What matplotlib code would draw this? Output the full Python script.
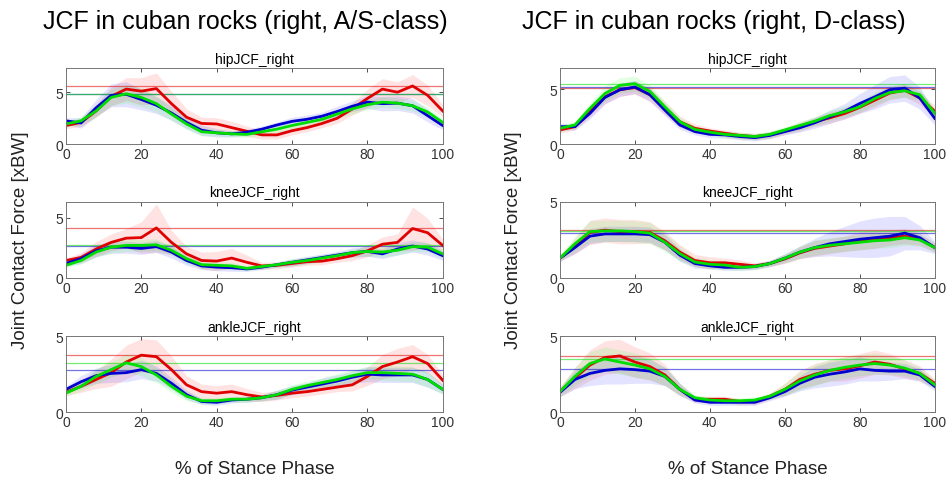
import numpy as np
import matplotlib
matplotlib.use('Agg')  # headless
import matplotlib.pyplot as plt

plt.rcParams['font.family'] = ['Liberation Sans', 'DejaVu Sans']

# % of stance phase, sampled every 4 %
stance = np.arange(0, 101, 4)

# ---- A/S-class ----
as_hip_red = [1.8, 2.1, 3.2, 4.6, 5.3, 5.1, 5.35, 3.9, 2.6, 2.0, 1.95, 1.6, 1.25, 0.9, 0.9, 1.3, 1.6, 2.0, 2.5, 3.4, 4.4, 5.3, 5.0, 5.6, 4.7, 3.2]
as_hip_blue = [2.25, 2.05, 3.5, 4.7, 4.8, 4.3, 3.75, 3.0, 2.1, 1.35, 1.1, 1.0, 1.15, 1.45, 1.85, 2.2, 2.4, 2.7, 3.15, 3.65, 4.05, 3.9, 3.95, 3.7, 2.75, 1.8]
as_hip_green = [1.95, 2.25, 3.2, 4.5, 4.85, 4.5, 3.9, 2.9, 1.95, 1.2, 1.1, 1.0, 0.95, 1.2, 1.45, 1.8, 2.1, 2.4, 2.9, 3.4, 3.8, 4.05, 3.95, 3.7, 3.1, 2.1]
as_hip_red_sd = [0.3, 0.4, 0.6, 0.9, 1.1, 1.3, 1.5, 1.2, 0.8, 0.6, 0.6, 0.6, 0.5, 0.4, 0.4, 0.4, 0.4, 0.4, 0.5, 0.6, 0.9, 1.0, 1.0, 1.1, 1.0, 0.6]
as_hip_blue_sd = [0.3, 0.5, 0.8, 1.1, 1.2, 1.0, 0.8, 0.7, 0.6, 0.5, 0.4, 0.3, 0.3, 0.3, 0.3, 0.4, 0.4, 0.4, 0.5, 0.5, 0.6, 0.7, 0.7, 0.7, 0.6, 0.4]
as_hip_green_sd = [0.3, 0.4, 0.6, 0.8, 0.9, 0.9, 0.8, 0.6, 0.5, 0.4, 0.3, 0.3, 0.3, 0.3, 0.3, 0.4, 0.4, 0.4, 0.4, 0.5, 0.5, 0.5, 0.5, 0.5, 0.5, 0.4]

as_knee_red = [1.45, 1.7, 2.4, 2.95, 3.3, 3.35, 4.15, 2.95, 2.0, 1.45, 1.4, 1.65, 1.3, 1.0, 1.05, 1.2, 1.35, 1.4, 1.6, 1.85, 2.25, 2.8, 2.95, 4.1, 3.75, 2.7]
as_knee_blue = [1.2, 1.6, 2.25, 2.55, 2.55, 2.45, 2.6, 2.15, 1.45, 1.0, 0.9, 0.85, 0.75, 0.9, 1.1, 1.3, 1.5, 1.7, 1.9, 2.1, 2.2, 2.0, 2.4, 2.65, 2.4, 1.85]
as_knee_green = [1.05, 1.45, 2.15, 2.55, 2.7, 2.7, 2.75, 2.3, 1.6, 1.1, 1.05, 1.0, 0.8, 0.95, 1.1, 1.3, 1.45, 1.65, 1.85, 2.1, 2.2, 2.15, 2.3, 2.6, 2.55, 2.0]
as_knee_red_sd = [0.2, 0.4, 0.6, 0.7, 0.8, 1.3, 2.0, 1.0, 0.6, 0.7, 0.8, 0.8, 0.6, 0.3, 0.3, 0.3, 0.3, 0.3, 0.3, 0.4, 0.5, 0.6, 0.7, 1.8, 1.2, 0.5]
as_knee_blue_sd = [0.2, 0.4, 0.5, 0.5, 0.5, 0.5, 0.5, 0.5, 0.4, 0.3, 0.3, 0.3, 0.2, 0.2, 0.2, 0.3, 0.3, 0.3, 0.3, 0.4, 0.4, 0.4, 0.5, 0.5, 0.5, 0.4]
as_knee_green_sd = [0.2, 0.3, 0.4, 0.5, 0.5, 0.5, 0.5, 0.4, 0.4, 0.3, 0.3, 0.3, 0.2, 0.2, 0.2, 0.3, 0.3, 0.3, 0.3, 0.3, 0.4, 0.4, 0.4, 0.4, 0.4, 0.4]

as_ankle_red = [1.3, 1.7, 2.15, 2.6, 3.3, 3.75, 3.65, 2.8, 1.8, 1.35, 1.25, 1.35, 1.15, 1.0, 1.1, 1.25, 1.35, 1.5, 1.65, 1.8, 2.35, 3.0, 3.3, 3.65, 3.2, 2.1]
as_ankle_blue = [1.5, 2.0, 2.4, 2.55, 2.6, 2.8, 2.55, 1.9, 1.15, 0.7, 0.65, 0.8, 0.85, 0.95, 1.15, 1.45, 1.65, 1.85, 2.05, 2.3, 2.5, 2.45, 2.45, 2.45, 2.15, 1.5]
as_ankle_green = [1.25, 1.7, 2.35, 2.8, 3.25, 3.0, 2.45, 1.7, 1.05, 0.75, 0.75, 0.85, 0.85, 0.95, 1.15, 1.5, 1.75, 1.95, 2.15, 2.4, 2.6, 2.6, 2.55, 2.5, 2.15, 1.5]
as_ankle_red_sd = [0.2, 0.4, 0.6, 0.9, 1.1, 1.1, 1.1, 0.9, 0.6, 0.5, 0.5, 0.5, 0.4, 0.3, 0.3, 0.3, 0.3, 0.3, 0.3, 0.4, 0.6, 0.8, 0.9, 0.8, 0.6, 0.4]
as_ankle_blue_sd = [0.2, 0.4, 0.5, 0.6, 0.6, 0.6, 0.5, 0.4, 0.3, 0.2, 0.2, 0.2, 0.2, 0.2, 0.3, 0.3, 0.3, 0.4, 0.4, 0.4, 0.5, 0.5, 0.5, 0.5, 0.5, 0.3]
as_ankle_green_sd = [0.2, 0.3, 0.5, 0.5, 0.6, 0.6, 0.5, 0.4, 0.3, 0.2, 0.2, 0.2, 0.2, 0.2, 0.3, 0.3, 0.3, 0.3, 0.4, 0.4, 0.4, 0.5, 0.5, 0.5, 0.5, 0.3]

# ---- D-class ----
d_hip_red = [1.3, 1.6, 3.0, 4.3, 4.95, 5.15, 4.5, 3.3, 2.05, 1.45, 1.2, 1.0, 0.8, 0.7, 0.85, 1.2, 1.6, 2.05, 2.4, 2.8, 3.35, 4.0, 4.65, 4.9, 4.2, 3.0]
d_hip_blue = [1.6, 1.6, 2.8, 4.25, 4.95, 5.2, 4.5, 3.1, 1.75, 1.15, 0.9, 0.85, 0.7, 0.6, 0.8, 1.15, 1.5, 1.95, 2.5, 3.0, 3.7, 4.3, 4.95, 5.1, 4.2, 2.35]
d_hip_green = [1.45, 1.75, 3.25, 4.6, 5.35, 5.5, 4.8, 3.4, 2.05, 1.35, 1.1, 0.9, 0.8, 0.7, 0.9, 1.3, 1.7, 2.1, 2.6, 2.95, 3.4, 4.15, 4.7, 4.85, 4.5, 2.8]
d_hip_red_sd = [0.3, 0.3, 0.5, 0.6, 0.6, 0.6, 0.6, 0.6, 0.5, 0.4, 0.3, 0.3, 0.3, 0.3, 0.3, 0.3, 0.4, 0.4, 0.5, 0.5, 0.5, 0.6, 0.6, 0.6, 0.6, 0.5]
d_hip_blue_sd = [0.3, 0.3, 0.5, 0.6, 0.6, 0.6, 0.6, 0.5, 0.4, 0.3, 0.3, 0.3, 0.3, 0.3, 0.3, 0.3, 0.4, 0.5, 0.6, 0.7, 0.9, 1.1, 1.2, 1.2, 1.0, 0.6]
d_hip_green_sd = [0.3, 0.3, 0.5, 0.7, 0.7, 0.7, 0.6, 0.5, 0.4, 0.3, 0.3, 0.3, 0.3, 0.3, 0.3, 0.3, 0.4, 0.4, 0.5, 0.5, 0.5, 0.6, 0.6, 0.6, 0.5, 0.4]

d_knee_red = [1.3, 2.1, 3.0, 3.15, 3.05, 3.05, 3.0, 2.45, 1.7, 1.15, 1.0, 1.0, 0.9, 0.8, 0.95, 1.25, 1.65, 1.95, 2.1, 2.25, 2.45, 2.55, 2.65, 2.75, 2.55, 2.0]
d_knee_blue = [1.3, 2.0, 2.75, 2.9, 2.9, 2.9, 2.85, 2.35, 1.5, 0.95, 0.8, 0.7, 0.7, 0.75, 0.95, 1.3, 1.7, 2.0, 2.25, 2.4, 2.55, 2.65, 2.75, 2.95, 2.65, 2.0]
d_knee_green = [1.3, 2.25, 3.05, 3.1, 3.1, 3.05, 2.95, 2.35, 1.6, 1.05, 0.9, 0.85, 0.7, 0.75, 0.95, 1.3, 1.7, 2.0, 2.15, 2.25, 2.35, 2.45, 2.5, 2.65, 2.5, 2.0]
d_knee_red_sd = [0.2, 0.5, 0.8, 0.8, 0.8, 0.8, 0.7, 0.6, 0.5, 0.4, 0.4, 0.3, 0.3, 0.2, 0.2, 0.3, 0.4, 0.5, 0.5, 0.5, 0.6, 0.6, 0.5, 0.5, 0.4, 0.3]
d_knee_blue_sd = [0.2, 0.4, 0.5, 0.5, 0.5, 0.5, 0.5, 0.5, 0.4, 0.3, 0.2, 0.2, 0.2, 0.2, 0.2, 0.3, 0.4, 0.6, 0.8, 1.0, 1.2, 1.3, 1.3, 1.1, 0.8, 0.4]
d_knee_green_sd = [0.2, 0.5, 0.7, 0.7, 0.7, 0.7, 0.7, 0.6, 0.5, 0.3, 0.3, 0.3, 0.2, 0.2, 0.2, 0.3, 0.4, 0.5, 0.5, 0.5, 0.5, 0.5, 0.5, 0.5, 0.4, 0.3]

d_ankle_red = [1.35, 2.25, 3.1, 3.6, 3.7, 3.3, 3.0, 2.45, 1.5, 0.85, 0.85, 0.85, 0.7, 0.7, 1.05, 1.5, 2.15, 2.5, 2.75, 2.85, 3.05, 3.3, 3.15, 2.85, 2.55, 1.9]
d_ankle_blue = [1.3, 2.15, 2.55, 2.75, 2.85, 2.8, 2.7, 2.35, 1.5, 0.8, 0.65, 0.65, 0.65, 0.65, 0.95, 1.35, 1.9, 2.3, 2.5, 2.65, 2.85, 2.75, 2.7, 2.7, 2.45, 1.7]
d_ankle_green = [1.35, 2.35, 3.2, 3.5, 3.3, 3.1, 2.85, 2.35, 1.5, 0.95, 0.8, 0.75, 0.75, 0.8, 1.05, 1.5, 2.05, 2.45, 2.75, 2.95, 3.1, 3.2, 3.1, 2.9, 2.55, 1.8]
d_ankle_red_sd = [0.3, 0.7, 1.0, 1.1, 1.1, 1.0, 0.9, 0.7, 0.4, 0.2, 0.2, 0.2, 0.2, 0.2, 0.2, 0.4, 0.6, 0.7, 0.7, 0.8, 0.8, 0.8, 0.7, 0.6, 0.5, 0.3]
d_ankle_blue_sd = [0.3, 0.6, 0.8, 0.9, 1.0, 0.9, 0.8, 0.6, 0.4, 0.2, 0.2, 0.2, 0.2, 0.2, 0.2, 0.3, 0.5, 0.7, 0.8, 0.8, 0.8, 0.7, 0.6, 0.5, 0.4, 0.3]
d_ankle_green_sd = [0.3, 0.6, 0.8, 0.8, 0.8, 0.8, 0.7, 0.6, 0.4, 0.2, 0.2, 0.2, 0.2, 0.2, 0.2, 0.4, 0.6, 0.7, 0.7, 0.7, 0.7, 0.7, 0.6, 0.5, 0.4, 0.3]

joint_titles = ['hipJCF_right', 'kneeJCF_right', 'ankleJCF_right']
class_titles = ['JCF in cuban rocks (right, A/S-class)', 'JCF in cuban rocks (right, D-class)']

panels = [
    [(as_hip_red, as_hip_red_sd, as_hip_blue, as_hip_blue_sd, as_hip_green, as_hip_green_sd),
     (as_knee_red, as_knee_red_sd, as_knee_blue, as_knee_blue_sd, as_knee_green, as_knee_green_sd),
     (as_ankle_red, as_ankle_red_sd, as_ankle_blue, as_ankle_blue_sd, as_ankle_green, as_ankle_green_sd)],
    [(d_hip_red, d_hip_red_sd, d_hip_blue, d_hip_blue_sd, d_hip_green, d_hip_green_sd),
     (d_knee_red, d_knee_red_sd, d_knee_blue, d_knee_blue_sd, d_knee_green, d_knee_green_sd),
     (d_ankle_red, d_ankle_red_sd, d_ankle_blue, d_ankle_blue_sd, d_ankle_green, d_ankle_green_sd)],
]
ylims = [[7.3, 6.3, 5.0], [6.9, 5.0, 5.0]]

band_colors = ['#ff0000', '#0000ff', '#00ff00']
line_colors = ['#e00000', '#0000d0', '#00dd00']

fig = plt.figure(figsize=(9.49, 4.81), dpi=100)

col_left = [0.0695, 0.590]
col_width = [0.397, 0.395]
row_bottom = [0.698, 0.420, 0.141]
row_height = 0.158

for c in range(2):
    for r in range(3):
        ax = fig.add_axes([col_left[c], row_bottom[r], col_width[c], row_height])
        data = panels[c][r]
        means = [np.array(data[0]), np.array(data[2]), np.array(data[4])]
        sds = [np.array(data[1]), np.array(data[3]), np.array(data[5])]
        for m, s, bc in zip(means, sds, band_colors):
            ax.fill_between(stance, m - s, m + s, color=bc, alpha=0.11, lw=0)
        # peak of each mean curve
        for m, lc in zip(means, line_colors):
            ax.axhline(m.max(), color=lc, lw=0.9, alpha=0.55)
        for m, lc in zip(means, line_colors):
            ax.plot(stance, m, color=lc, lw=2)
        ax.set_xlim(0, 100)
        ax.set_ylim(0, ylims[c][r])
        ax.set_xticks([0, 20, 40, 60, 80, 100])
        ax.set_yticks([0, 5])
        ax.tick_params(direction='in', length=3, width=0.6, top=True, right=True,
                       labelsize=10, colors='#333333', pad=2)
        for sp in ax.spines.values():
            sp.set_color('#777777')
            sp.set_linewidth(0.7)
        ax.set_title(joint_titles[r], fontsize=10, pad=4)

# column headings and axis labels
fig.text(0.259, 0.954, class_titles[0], ha='center', va='center', fontsize=18)
fig.text(0.752, 0.954, class_titles[1], ha='center', va='center', fontsize=18)
fig.text(0.022, 0.50, 'Joint Contact Force [xBW]', rotation=90, ha='center', va='center', fontsize=13.5, color='#222222')
fig.text(0.541, 0.50, 'Joint Contact Force [xBW]', rotation=90, ha='center', va='center', fontsize=13.5, color='#222222')
fig.text(0.268, 0.024, '% of Stance Phase', ha='center', va='center', fontsize=13.5, color='#222222')
fig.text(0.788, 0.024, '% of Stance Phase', ha='center', va='center', fontsize=13.5, color='#222222')

plt.savefig('out.png', dpi=100)
